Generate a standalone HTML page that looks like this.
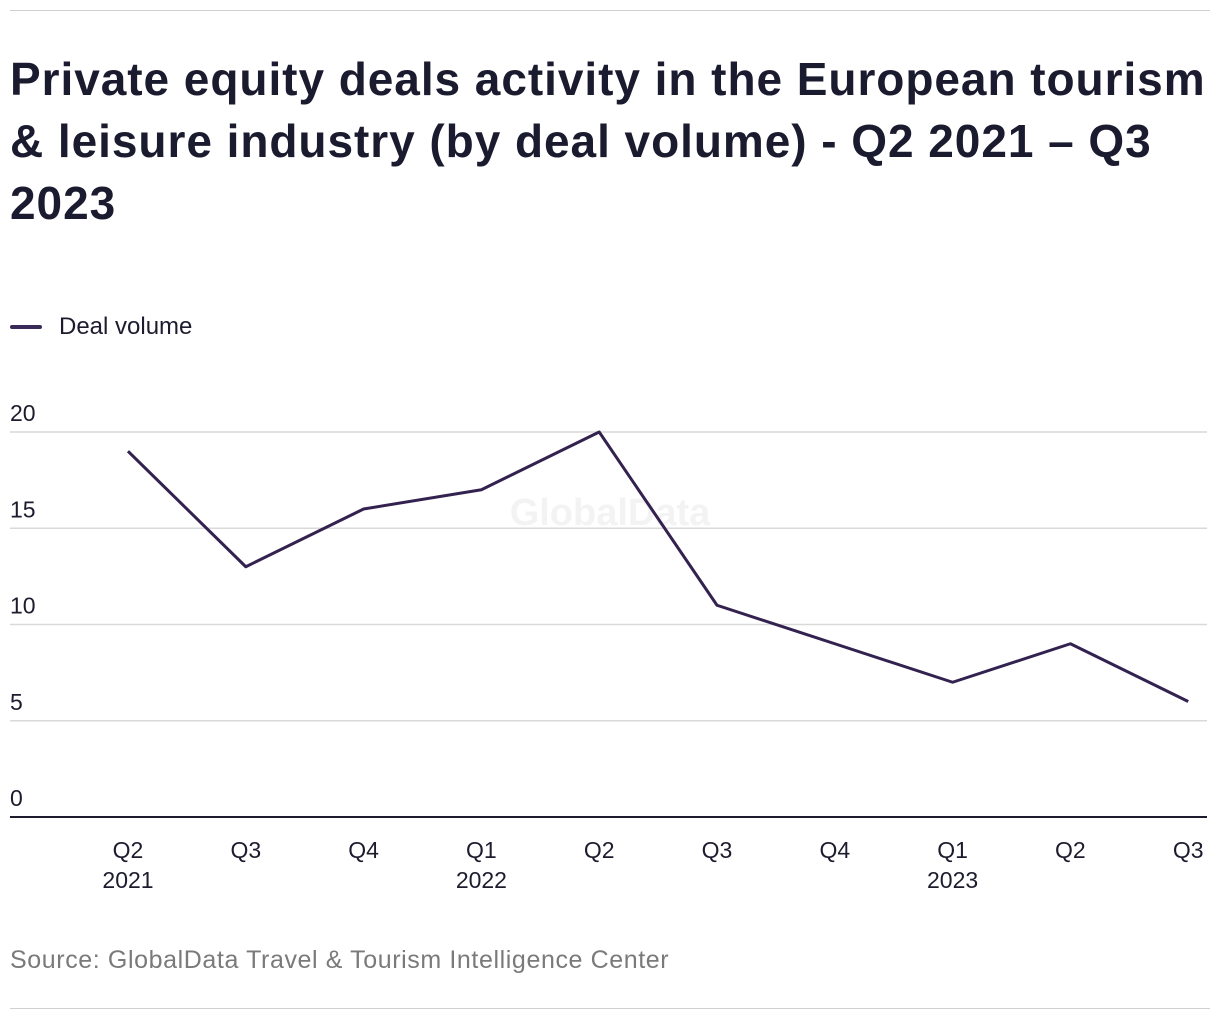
<!DOCTYPE html>
<html><head><meta charset="utf-8"><style>
body{margin:0;width:1220px;height:1020px;background:#fff;font-family:"Liberation Sans",sans-serif;position:relative;overflow:hidden;color:#1c1c2e}
.rule{position:absolute;left:10px;width:1200px;height:1px;background:#d0d0d0}
#title{position:absolute;left:10px;top:48px;font-size:46px;font-weight:bold;line-height:62px;white-space:nowrap;color:#1b1b2f;letter-spacing:0.95px}
#legend{position:absolute;left:10px;top:313px;font-size:24px;display:flex;align-items:center}
#legend span.sw{display:inline-block;width:32px;height:4px;background:#3a2a5a;border-radius:2px;margin-right:17px}
#source{position:absolute;left:10px;top:946px;font-size:25px;letter-spacing:0.6px;color:#7a7a7a}
svg{position:absolute;left:0;top:0}
</style></head><body>
<div class="rule" style="top:10px"></div>
<div id="title">Private equity deals activity in the European tourism<br>&amp; leisure industry (by deal volume) - Q2 2021 – Q3<br>2023</div>
<div id="legend"><span class="sw"></span>Deal volume</div>
<svg id="chart" width="1220" height="1020"></svg>
<div id="source">Source: GlobalData Travel &amp; Tourism Intelligence Center</div>
<div class="rule" style="top:1008px"></div>
<script>
const categories=["Q2","Q3","Q4","Q1","Q2","Q3","Q4","Q1","Q2","Q3"];
const years=["2021","","","2022","","","","2023","",""];
const values=[19,13,16,17,20,11,9,7,9,6];
const yTicks=[0,5,10,15,20];
const NS="http://www.w3.org/2000/svg";
const svg=document.getElementById('chart');
const x=i=>128+i*117.8;
const y=v=>817-v*19.25;
function mk(t,a){const e=document.createElementNS(NS,t);for(const k in a)e.setAttribute(k,a[k]);svg.appendChild(e);return e;}
const wm=mk('text',{x:610,y:525,'text-anchor':'middle','font-size':38,'font-weight':'bold',fill:'#f3f3f3'});
wm.textContent='GlobalData';


yTicks.forEach(t=>{
  if(t>0){const g=mk('line',{x1:10,x2:1207,y1:y(t),y2:y(t),stroke:'#d9d9d9','stroke-width':1.5});
  
  }
  const l=mk('text',{x:10,y:y(t)-11,'font-size':23,fill:'#1c1c2e'});l.textContent=t;
  
  
});
const ax=mk('line',{x1:10,x2:1207,y1:817,y2:817,stroke:'#1c1c2e','stroke-width':2});


categories.forEach((c,i)=>{
  const t=mk('text',{x:x(i),y:858,'text-anchor':'middle','font-size':23,fill:'#1c1c2e'});t.textContent=c;
  
  
  if(years[i]){const yr=mk('text',{x:x(i),y:888,'text-anchor':'middle','font-size':23,fill:'#1c1c2e'});yr.textContent=years[i];
  
  }
});
const p=mk('polyline',{points:values.map((v,i)=>x(i)+','+y(v)).join(' '),fill:'none',stroke:'#33224f','stroke-width':3,'stroke-linejoin':'round'});


</script>
</body></html>
